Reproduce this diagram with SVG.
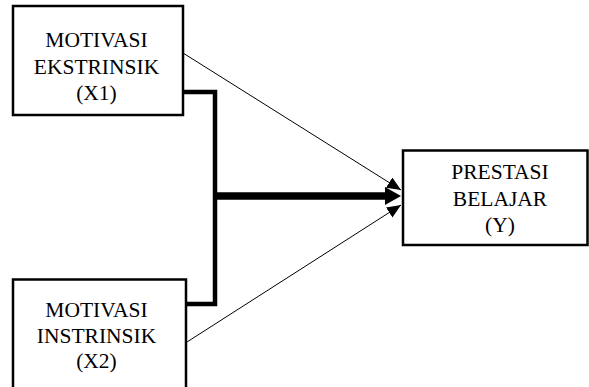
<svg xmlns="http://www.w3.org/2000/svg" width="589" height="387" viewBox="0 0 589 387">
<style>
.box{fill:#fff;stroke:#000;stroke-width:2.5}
.lbl{font-family:'Liberation Serif','Times New Roman',serif;font-size:21.5px;fill:#000;text-anchor:middle}
.thin{fill:none;stroke:#000;stroke-width:1}
.thick{fill:none;stroke:#000;stroke-width:4.5}
.thicker{fill:none;stroke:#000;stroke-width:7.5}
</style>
<defs>
<marker id="ah" markerUnits="userSpaceOnUse" markerWidth="15" markerHeight="13" refX="14" refY="6" orient="auto">
<path d="M0,0 L14,6 L0,12 z" fill="#000"/>
</marker>
<marker id="ahBig" markerUnits="userSpaceOnUse" markerWidth="17" markerHeight="19" refX="5" refY="9" orient="auto">
<path d="M0,0 L16,9 L0,18 z" fill="#000"/>
</marker>
</defs>
<g id="connectors">
<polyline class="thick" points="183,92 215,92 215,304 186,304"/>
<line class="thicker" x1="213" y1="196" x2="390" y2="196" marker-end="url(#ahBig)"/>
<line class="thin" x1="183" y1="53" x2="401" y2="190" marker-end="url(#ah)"/>
<line class="thin" x1="187" y1="342" x2="401" y2="205" marker-end="url(#ah)"/>
</g>
<g id="x1">
<rect class="box" x="13" y="6" width="170" height="109"/>
<text class="lbl" x="96.5" y="47">MOTIVASI</text>
<text class="lbl" x="96.5" y="74">EKSTRINSIK</text>
<text class="lbl" x="96.5" y="100">(X1)</text>
</g>
<g id="x2">
<rect class="box" x="13" y="279.5" width="173" height="120"/>
<text class="lbl" x="96.5" y="317">MOTIVASI</text>
<text class="lbl" x="96.5" y="343">INSTRINSIK</text>
<text class="lbl" x="96.5" y="368">(X2)</text>
</g>
<g id="y">
<rect class="box" x="403" y="150.5" width="184.5" height="94.5"/>
<text class="lbl" x="500" y="179">PRESTASI</text>
<text class="lbl" x="500" y="206">BELAJAR</text>
<text class="lbl" x="500" y="232">(Y)</text>
</g>
</svg>
